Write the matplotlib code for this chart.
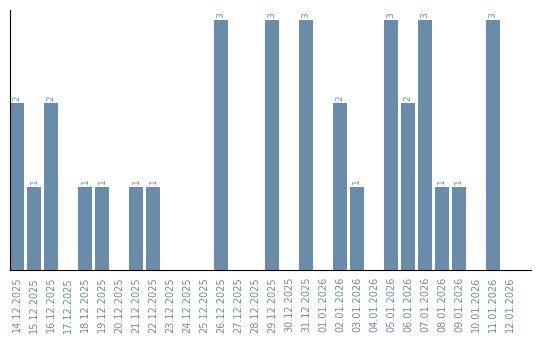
import matplotlib
matplotlib.use("Agg")
import matplotlib.pyplot as plt

dates = ["14.12.2025", "15.12.2025", "16.12.2025", "17.12.2025", "18.12.2025",
         "19.12.2025", "20.12.2025", "21.12.2025", "22.12.2025", "23.12.2025",
         "24.12.2025", "25.12.2025", "26.12.2025", "27.12.2025", "28.12.2025",
         "29.12.2025", "30.12.2025", "31.12.2025", "01.01.2026", "02.01.2026",
         "03.01.2026", "04.01.2026", "05.01.2026", "06.01.2026", "07.01.2026",
         "08.01.2026", "09.01.2026", "10.01.2026", "11.01.2026", "12.01.2026"]
values = [2, 1, 2, 0, 1, 1, 0, 1, 1, 0, 0, 0, 3, 0, 0, 3, 0, 3, 0, 2, 1, 0, 3, 2, 3, 1, 1, 0, 3, 0]

color = "#6a8cab"
fig = plt.figure(figsize=(5.4, 3.4), dpi=100)
ax = fig.add_axes([10/540, 1 - 270/340, 521/540, 260/340])
x = list(range(len(dates)))
w = 14/17
ax.bar(x, values, width=w, color=color)
for xi, v in zip(x, values):
    if v > 0:
        ax.text(xi, v + 0.03, str(v), rotation=90, ha="center", va="bottom",
                fontsize=6.5, color=color)
ax.set_xlim(-7/17, 30.24)
ax.set_ylim(0, 260/83.33)
ax.set_xticks(x)
ax.set_xticklabels(dates, rotation=90, fontsize=7, color=color)
ax.tick_params(axis="x", length=0, pad=5)
ax.set_yticks([])
for s in ["top", "right"]:
    ax.spines[s].set_visible(False)
ax.spines["left"].set_color("black")
ax.spines["bottom"].set_color("black")
fig.savefig("out.png", dpi=100)
